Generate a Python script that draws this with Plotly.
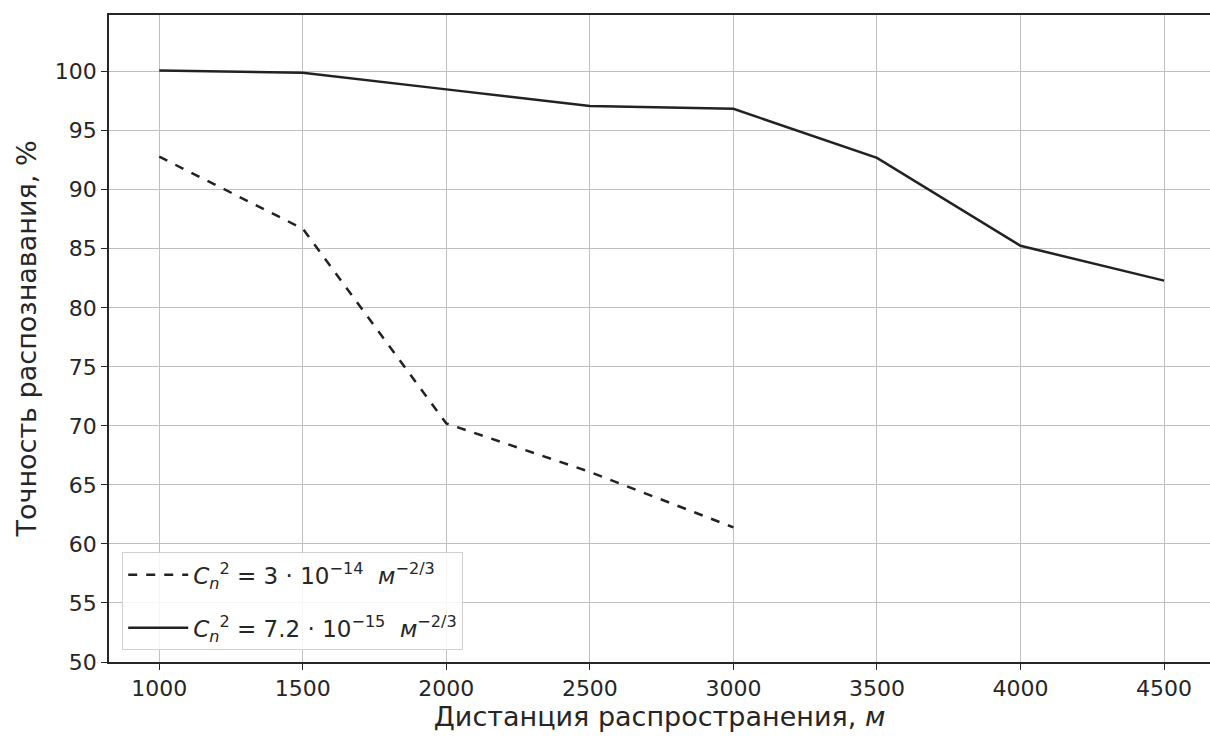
import plotly.graph_objects as go

distance = [1000, 1500, 2000, 2500, 3000, 3500, 4000, 4500]
acc_cn_3e14 = [92.8, 86.7, 70.2, 66.1, 61.4]
acc_cn_72e15 = [100.1, 99.9, 98.5, 97.1, 96.85, 92.7, 85.25, 82.3]

name1 = "<i>C</i><sub><i>n</i></sub><sup>2</sup> = 3 · 10<sup>−14</sup>  <i>м</i><sup>−2/3</sup>"
name2 = "<i>C</i><sub><i>n</i></sub><sup>2</sup> = 7.2 · 10<sup>−15</sup>  <i>м</i><sup>−2/3</sup>"

fig = go.Figure()
fig.add_trace(go.Scatter(x=distance[:len(acc_cn_3e14)], y=acc_cn_3e14, mode="lines",
                         line=dict(color="#222222", width=2.5, dash="dash"), name=name1,
                         legendgroup="a"))
fig.add_trace(go.Scatter(x=distance, y=acc_cn_72e15, mode="lines",
                         line=dict(color="#222222", width=2.5), name=name2,
                         legendgroup="b"))

font = "DejaVu Sans"
fig.update_layout(
    width=1210, height=738,
    margin=dict(l=109, r=0, t=15, b=76),
    paper_bgcolor="white", plot_bgcolor="white",
    font=dict(family=font, size=20, color="#262626"),
    showlegend=True,
    legend=dict(x=0.012, y=0.018, xanchor="left", yanchor="bottom",
                bgcolor="rgba(255,255,255,0.85)", bordercolor="#d0d0d0", borderwidth=1,
                font=dict(size=23, family=font), tracegroupgap=20, itemwidth=60),
    xaxis=dict(range=[825, 4660], tickvals=distance, ticktext=[str(d) for d in distance],
               showgrid=True, gridcolor="#c0c0c0", gridwidth=1,
               showline=True, linecolor="#262626", linewidth=1.5, mirror=True,
               ticks="outside", ticklen=6, tickcolor="#262626",
               tickfont=dict(size=22, family=font), zeroline=False,
               title=dict(text="Дистанция распространения, <i>м</i>", font=dict(size=27, family=font), standoff=6)),
    yaxis=dict(range=[50, 104.8], tickvals=list(range(50, 101, 5)),
               showgrid=True, gridcolor="#c0c0c0", gridwidth=1,
               showline=True, linecolor="#262626", linewidth=1.5, mirror=False,
               ticks="outside", ticklen=6, tickcolor="#262626",
               tickfont=dict(size=22, family=font), zeroline=False,
               title=dict(text="Точность распознавания, %", font=dict(size=27, family=font), standoff=10)),
)

fig.write_html("out.html", config={"displayModeBar": False},
               post_script="document.body.style.margin='0px';document.body.style.overflow='hidden';")
